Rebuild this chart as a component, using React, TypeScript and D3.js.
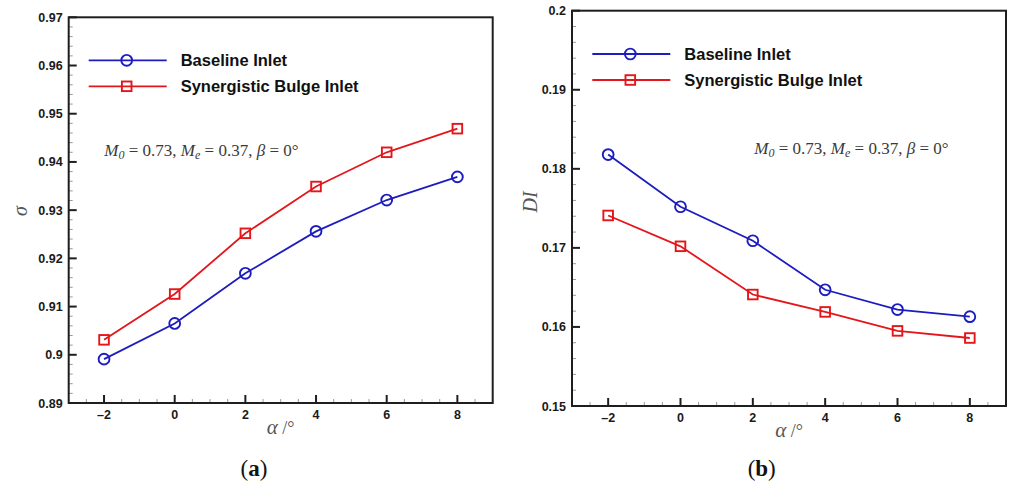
import React from "react";
import * as d3 from "d3";

// Angle of attack (deg)
const alpha = [-2, 0, 2, 4, 6, 8];

// Total pressure recovery coefficient
const sigmaBaseline = [0.8991, 0.9065, 0.9169, 0.9256, 0.9321, 0.9369];
const sigmaBulge = [0.9031, 0.9126, 0.9252, 0.9349, 0.942, 0.9469];

// Distortion index
const diBaseline = [0.1818, 0.1752, 0.1709, 0.1647, 0.1622, 0.1613];
const diBulge = [0.1741, 0.1702, 0.1641, 0.1619, 0.1595, 0.1586];

const seriesNames = ["Baseline Inlet", "Synergistic Bulge Inlet"];
const xTickValues = [-2, 0, 2, 4, 6, 8];
const sigmaTicks = [0.89, 0.9, 0.91, 0.92, 0.93, 0.94, 0.95, 0.96, 0.97];
const diTicks = [0.15, 0.16, 0.17, 0.18, 0.19, 0.2];

const BLUE = "#1c1cc0";
const RED = "#e3161b";
const AXIS = "#1e1e1e";
const SANS = "'Liberation Sans', Arial, sans-serif";
const SERIF = "'Liberation Serif', 'Times New Roman', serif";

type PanelProps = {
  left: number;
  right: number;
  top: number;
  bottom: number;
  yDomain: [number, number];
  yTicks: number[];
  yMinorStep: number;
  baseline: number[];
  bulge: number[];
  yLabel: React.ReactNode;
  yLabelX: number;
  yLabelY: number;
  legendX: number;
  legendY: number;
  noteX: number;
  noteY: number;
  letter: string;
  letterX: number;
};

function Marker({ kind, x, y, color }: { kind: "circle" | "square"; x: number; y: number; color: string }) {
  if (kind === "circle") {
    return <circle cx={x} cy={y} r={5.4} fill="none" stroke={color} strokeWidth={1.9} />;
  }
  return <rect x={x - 4.8} y={y - 4.8} width={9.6} height={9.6} fill="none" stroke={color} strokeWidth={1.9} />;
}

function Panel(p: PanelProps) {
  const x = d3.scaleLinear().domain([-3, 9]).range([p.left, p.right]);
  const y = d3.scaleLinear().domain(p.yDomain).range([p.bottom, p.top]);
  const line = d3
    .line<number>()
    .x((_, i) => x(alpha[i]))
    .y((d) => y(d));

  const xMinor = d3.range(-3, 9.001, 0.5).filter((v) => !xTickValues.includes(Math.round(v * 10) / 10));
  const nMinor = Math.round((p.yDomain[1] - p.yDomain[0]) / p.yMinorStep);
  const yMinor = d3
    .range(0, nMinor + 1)
    .map((i) => p.yDomain[0] + i * p.yMinorStep)
    .filter((v) => !p.yTicks.some((t) => Math.abs(t - v) < 1e-6));

  const series = [
    { data: p.baseline, color: BLUE, kind: "circle" as const, name: seriesNames[0] },
    { data: p.bulge, color: RED, kind: "square" as const, name: seriesNames[1] },
  ];

  return (
    <g>
      {/* minor ticks */}
      {xMinor.map((v) => (
        <line key={"xm" + v} x1={x(v)} x2={x(v)} y1={p.bottom} y2={p.bottom - 4} stroke="#9a9a9a" strokeWidth={1} />
      ))}
      {yMinor.map((v) => (
        <line key={"ym" + v} x1={p.left} x2={p.left + 4} y1={y(v)} y2={y(v)} stroke="#9a9a9a" strokeWidth={1} />
      ))}
      {/* major ticks and labels */}
      {xTickValues.map((v) => (
        <g key={"xt" + v}>
          <line x1={x(v)} x2={x(v)} y1={p.bottom} y2={p.bottom - 8} stroke={AXIS} strokeWidth={2} />
          <text x={x(v)} y={p.bottom + 16} textAnchor="middle" fontFamily={SANS} fontWeight="bold" fontSize={12.5} fill="#1a1a1a">
            {v < 0 ? "\u2013" + Math.abs(v) : v}
          </text>
        </g>
      ))}
      {p.yTicks.map((v) => (
        <g key={"yt" + v}>
          <line x1={p.left} x2={p.left + 8} y1={y(v)} y2={y(v)} stroke={AXIS} strokeWidth={2} />
          <text x={p.left - 6} y={y(v) + 4.5} textAnchor="end" fontFamily={SANS} fontWeight="bold" fontSize={12.5} fill="#1a1a1a">
            {d3.format("")(+v.toFixed(2))}
          </text>
        </g>
      ))}
      {/* frame */}
      <rect x={p.left} y={p.top} width={p.right - p.left} height={p.bottom - p.top} fill="none" stroke={AXIS} strokeWidth={2} />

      {/* series */}
      {series.map((s) => (
        <g key={s.name}>
          <path d={line(s.data) || ""} fill="none" stroke={s.color} strokeWidth={1.8} />
          {s.data.map((d, i) => (
            <Marker key={i} kind={s.kind} x={x(alpha[i])} y={y(d)} color={s.color} />
          ))}
        </g>
      ))}

      {/* legend */}
      {series.map((s, i) => {
        const ly = p.legendY + i * 26;
        return (
          <g key={"lg" + s.name}>
            <line x1={p.legendX} x2={p.legendX + 78} y1={ly} y2={ly} stroke={s.color} strokeWidth={1.8} />
            <Marker kind={s.kind} x={p.legendX + 38} y={ly} color={s.color} />
            <text x={p.legendX + 92} y={ly + 6} fontFamily={SANS} fontWeight="bold" fontSize={16.5} fill="#111">
              {s.name}
            </text>
          </g>
        );
      })}

      {/* flow condition note */}
      <text x={p.noteX} y={p.noteY} fontFamily={SERIF} fontSize={17} fill="#3a3a3a">
        <tspan fontStyle="italic">M</tspan>
        <tspan fontStyle="italic" fontSize={12} dy={3}>0</tspan>
        <tspan dy={-3}> = 0.73, </tspan>
        <tspan fontStyle="italic">M</tspan>
        <tspan fontStyle="italic" fontSize={12} dy={3}>e</tspan>
        <tspan dy={-3}> = 0.37, </tspan>
        <tspan fontStyle="italic">β</tspan>
        <tspan> = 0°</tspan>
      </text>

      {/* axis titles */}
      <text x={(p.left + p.right) / 2} y={p.bottom + 31} textAnchor="middle" fontFamily={SERIF} fontSize={21} fill="#555">
        <tspan fontStyle="italic">α</tspan>
        <tspan fontSize={18}> /°</tspan>
      </text>
      <text
        transform={`translate(${p.yLabelX},${p.yLabelY}) rotate(-90)`}
        textAnchor="middle"
        fontFamily={SERIF}
        fontStyle="italic"
        fontSize={20}
        fill="#555"
      >
        {p.yLabel}
      </text>

      {/* panel letter */}
      <text x={p.letterX} y={476} textAnchor="middle" fontFamily={SERIF} fontSize={23} fill="#111">
        (<tspan fontWeight="bold">{p.letter}</tspan>)
      </text>
    </g>
  );
}

export default function App() {
  return (
    <svg
      width={1010}
      height={484}
      viewBox="0 0 1010 484"
      style={{ position: "absolute", left: 0, top: 0, background: "#fff" }}
    >
      <rect width={1010} height={484} fill="#fff" />
      <Panel
        left={68.7}
        right={492.7}
        top={17.3}
        bottom={403}
        yDomain={[0.89, 0.97]}
        yTicks={sigmaTicks}
        yMinorStep={0.002}
        baseline={sigmaBaseline}
        bulge={sigmaBulge}
        yLabel="σ"
        yLabelX={27}
        yLabelY={211}
        legendX={88.7}
        legendY={60.3}
        noteX={104.3}
        noteY={156}
        letter="a"
        letterX={254}
      />
      <Panel
        left={572}
        right={1006}
        top={10.7}
        bottom={406}
        yDomain={[0.15, 0.2]}
        yTicks={diTicks}
        yMinorStep={0.002}
        baseline={diBaseline}
        bulge={diBulge}
        yLabel="DI"
        yLabelX={537}
        yLabelY={202}
        legendX={592.3}
        legendY={54}
        noteX={754.3}
        noteY={154}
        letter="b"
        letterX={761.7}
      />
    </svg>
  );
}
